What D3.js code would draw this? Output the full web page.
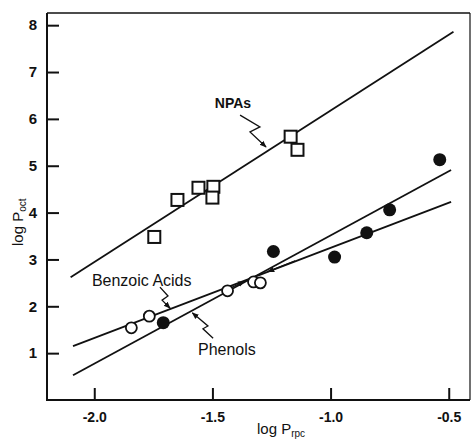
<!DOCTYPE html>
<html>
<head>
<meta charset="utf-8">
<script src="https://cdn.jsdelivr.net/npm/d3@7"></script>
<style>
  body { margin: 0; background: #fff; }
  text { font-family: "Liberation Sans", Arial, sans-serif; fill: #111; }
</style>
</head>
<body>
<div id="chart"></div>
<script>
// log P_rpc vs log P_oct
var npaX = [-1.746, -1.648, -1.559, -1.496, -1.500, -1.169, -1.140];
var npaY = [3.48, 4.27, 4.53, 4.55, 4.32, 5.62, 5.34];

var benzoicX = [-1.843, -1.767, -1.436, -1.326, -1.297];
var benzoicY = [1.54, 1.79, 2.33, 2.52, 2.50];

var phenolX = [-1.708, -1.242, -0.983, -0.847, -0.750, -0.538];
var phenolY = [1.65, 3.17, 3.05, 3.57, 4.06, 5.13];

// fitted lines (end points)
var npaLine = [[-2.10, 2.62], [-0.48, 7.86]];
var benzoicLine = [[-2.09, 1.15], [-0.49, 4.23]];
var phenolLine = [[-2.09, 0.53], [-0.49, 4.91]];

var xTicks = [-2.0, -1.5, -1.0, -0.5];
var yTicks = [1, 2, 3, 4, 5, 6, 7, 8];

// label arrows (zig-zag leaders), in data units
var npaLeader = [[-1.383, 6.08], [-1.299, 5.83], [-1.341, 5.72], [-1.273, 5.40]];
var benzoicLeader = [[-1.722, 2.41], [-1.688, 2.22], [-1.713, 2.13], [-1.679, 1.96]];
var phenolLeader = [[-1.497, 1.32], [-1.540, 1.52], [-1.519, 1.58], [-1.585, 1.86]];
var smallArrows = [
    [[-1.42, 2.40], [-1.365, 2.53]],
    [[-1.15, 2.97], [-1.265, 2.74]]
];

var width = 472, height = 442;
var svg = d3.select('#chart').append('svg')
    .attr('width', width)
    .attr('height', height);

var x = d3.scaleLinear().domain([-2.2, -0.41]).range([47, 470]);
var y = d3.scaleLinear().domain([0, 8.26]).range([400, 13]);

svg.append('defs').append('marker')
    .attr('id', 'head')
    .attr('viewBox', '0 0 10 10')
    .attr('refX', 9).attr('refY', 5)
    .attr('markerWidth', 7).attr('markerHeight', 7)
    .attr('markerUnits', 'userSpaceOnUse')
    .attr('orient', 'auto')
    .append('path')
    .attr('d', 'M0,1 L10,5 L0,9 Z')
    .style('fill', '#111');

// frame
svg.append('line').attr('x1', 47).attr('y1', 13).attr('x2', 47).attr('y2', 400)
    .style('stroke', '#111').style('stroke-width', 2);
svg.append('line').attr('x1', 46).attr('y1', 400).attr('x2', 470).attr('y2', 400)
    .style('stroke', '#111').style('stroke-width', 2);
svg.append('line').attr('x1', 47).attr('y1', 13).attr('x2', 470).attr('y2', 13)
    .style('stroke', '#111').style('stroke-width', 1.5);
svg.append('line').attr('x1', 470).attr('y1', 13).attr('x2', 470).attr('y2', 400)
    .style('stroke', '#111').style('stroke-width', 1.2);

// axes, ticks pointing inward
var yAxis = svg.append('g')
    .attr('transform', 'translate(47,0)')
    .call(d3.axisLeft(y).tickValues(yTicks).tickSizeInner(-12).tickSizeOuter(0).tickPadding(10)
        .tickFormat(d3.format('d')));
var xAxis = svg.append('g')
    .attr('transform', 'translate(0,400)')
    .call(d3.axisBottom(x).tickValues(xTicks).tickSizeInner(-12).tickSizeOuter(0).tickPadding(12)
        .tickFormat(function (d) { return d3.format('.1f')(d).replace('\u2212', '-'); }));
[yAxis, xAxis].forEach(function (g) {
    g.select('.domain').remove();
    g.selectAll('.tick line').style('stroke', '#111').style('stroke-width', 2);
    g.selectAll('.tick text').style('font-family', '"Liberation Sans", Arial, sans-serif')
        .style('font-weight', 'bold').style('fill', '#111');
});
yAxis.selectAll('.tick text').style('font-size', '15px');
xAxis.selectAll('.tick text').style('font-size', '14px');

// axis titles
var xt = svg.append('text')
    .attr('x', 257).attr('y', 434)
    .style('font-size', '15px');
xt.append('tspan').text('log  P');
xt.append('tspan').attr('dy', 3).style('font-size', '10px').text('rpc');

var yt = svg.append('text')
    .attr('transform', 'translate(23,246) rotate(-90)')
    .style('font-size', '15px');
yt.append('tspan').text('log  P');
yt.append('tspan').attr('dy', 3).style('font-size', '10px').text('oct');

// regression lines
var line = d3.line()
    .x(function (d) { return x(d[0]); })
    .y(function (d) { return y(d[1]); });
[npaLine, benzoicLine, phenolLine].forEach(function (l) {
    svg.append('path').attr('d', line(l))
        .style('fill', 'none')
        .style('stroke', '#111')
        .style('stroke-width', 1.8);
});

// leaders
[npaLeader, benzoicLeader, phenolLeader].concat(smallArrows).forEach(function (l) {
    svg.append('path').attr('d', line(l))
        .style('fill', 'none')
        .style('stroke', '#111')
        .style('stroke-width', 1.3)
        .attr('marker-end', 'url(#head)');
});

// NPAs (open squares)
svg.selectAll('.npa').data(d3.zip(npaX, npaY)).enter().append('rect')
    .attr('class', 'npa')
    .attr('x', function (d) { return x(d[0]) - 6; })
    .attr('y', function (d) { return y(d[1]) - 6; })
    .attr('width', 12)
    .attr('height', 12)
    .style('fill', '#fff')
    .style('stroke', '#111')
    .style('stroke-width', 2);

// benzoic acids (open circles)
svg.selectAll('.benz').data(d3.zip(benzoicX, benzoicY)).enter().append('circle')
    .attr('class', 'benz')
    .attr('cx', function (d) { return x(d[0]); })
    .attr('cy', function (d) { return y(d[1]); })
    .attr('r', 5.5)
    .style('fill', '#fff')
    .style('stroke', '#111')
    .style('stroke-width', 1.8);

// phenols (filled circles)
svg.selectAll('.phen').data(d3.zip(phenolX, phenolY)).enter().append('circle')
    .attr('class', 'phen')
    .attr('cx', function (d) { return x(d[0]); })
    .attr('cy', function (d) { return y(d[1]); })
    .attr('r', 6.5)
    .style('fill', '#111');

// labels
svg.append('text').attr('x', x(-1.413)).attr('y', y(6.23))
    .attr('text-anchor', 'middle')
    .style('font-size', '14px').style('font-weight', 'bold')
    .text('NPAs');
svg.append('text').attr('x', x(-2.01)).attr('y', y(2.43))
    .style('font-size', '16px')
    .text('Benzoic Acids');
svg.append('text').attr('x', x(-1.561)).attr('y', y(0.96))
    .style('font-size', '16px')
    .text('Phenols');
</script>
</body>
</html>
